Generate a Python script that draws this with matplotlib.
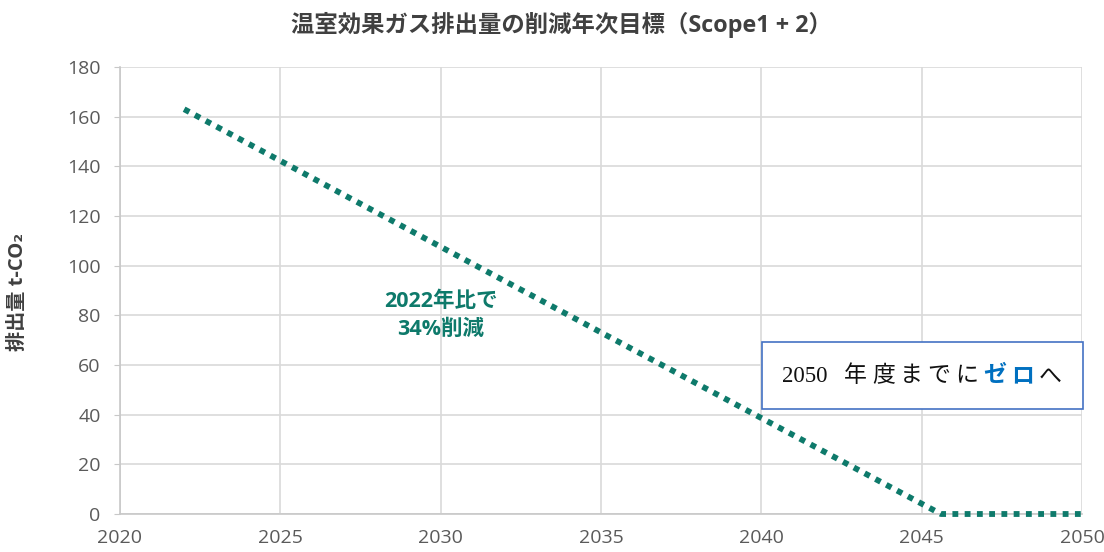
import matplotlib
matplotlib.use('Agg')
import matplotlib.pyplot as plt
from matplotlib.patches import Rectangle

plt.rcParams['font.family'] = ['Open Sans', 'Noto Sans CJK JP', 'DejaVu Sans']

# datos
anios = [2022, 2030, 2045.6, 2050]
emisiones = [163, 107.6, 0, 0]
ticks_x = [2020, 2025, 2030, 2035, 2040, 2045, 2050]
ticks_y = [0, 20, 40, 60, 80, 100, 120, 140, 160, 180]

titulo = '温室効果ガス排出量の削減年次目標（Scope1 + 2）'
etiqueta_y = '排出量 t-CO₂'
nota = '2022年比で\n34%削減'

verde = '#0e7a6b'
gris = '#5a5a5a'

fig = plt.figure(figsize=(11.04, 5.52), dpi=100)
ax = fig.add_axes([120/1104, 1 - 514/552, 962/1104, 447/552])

ax.plot(anios, emisiones, color=verde, lw=4.2, dashes=(1, 1.1),
        dash_capstyle='butt', zorder=3, clip_on=False)

ax.set_xlim(2020, 2050)
ax.set_ylim(0, 180)
ax.set_xticks(ticks_x)
ax.set_yticks(ticks_y)
ax.grid(True, color='#d9d9d9', lw=1.2, zorder=0)
ax.set_axisbelow(True)
for s in ['top', 'right']:
    ax.spines[s].set_visible(False)
for s in ['left', 'bottom']:
    ax.spines[s].set_color('#c8c8c8')
    ax.spines[s].set_linewidth(1.2)
ax.tick_params(axis='y', length=4, color='#c8c8c8', labelsize=14,
               labelcolor=gris, pad=10)
ax.tick_params(axis='x', length=0, labelsize=14, labelcolor=gris, pad=11)

ax.set_ylabel(etiqueta_y, fontsize=14.5, fontweight='bold', color='#404040')
ax.yaxis.set_label_coords(-0.096, 0.497)

fig.text(561/1104, 1 - 25/552, titulo, ha='center', va='center',
         fontsize=16.8, fontweight='bold', color='#404040')

ax.text(2030, 80, nota, ha='center', va='center', fontsize=15.5,
        fontweight='bold', color=verde, linespacing=1.45, zorder=4)

# recuadro
ax.add_patch(Rectangle((2040.02, 42.3), 10.0, 27.0, facecolor='white',
                       edgecolor='#4472c4', lw=1.2, zorder=5, clip_on=False))
serif = ['Liberation Serif', 'Noto Sans CJK JP']
previo = ax.text(2040.64, 53, '2050', ha='left', va='baseline',
                 fontsize=16.5, family=serif, color='#111111', zorder=6)
# separación entre caracteres, en puntos
gap = 12
for ch in '年度までにゼロへ':
    azul = ch in 'ゼロ'
    previo = ax.annotate(ch, xy=(1, 0), xycoords=previo,
                         xytext=(gap, 0), textcoords='offset points',
                         ha='left', va='bottom', fontsize=16.5,
                         family=serif,
                         fontweight='bold' if azul else 'normal',
                         color='#0070c0' if azul else '#111111', zorder=6)
    gap = 3.6

fig.savefig('out.png', dpi=100)
